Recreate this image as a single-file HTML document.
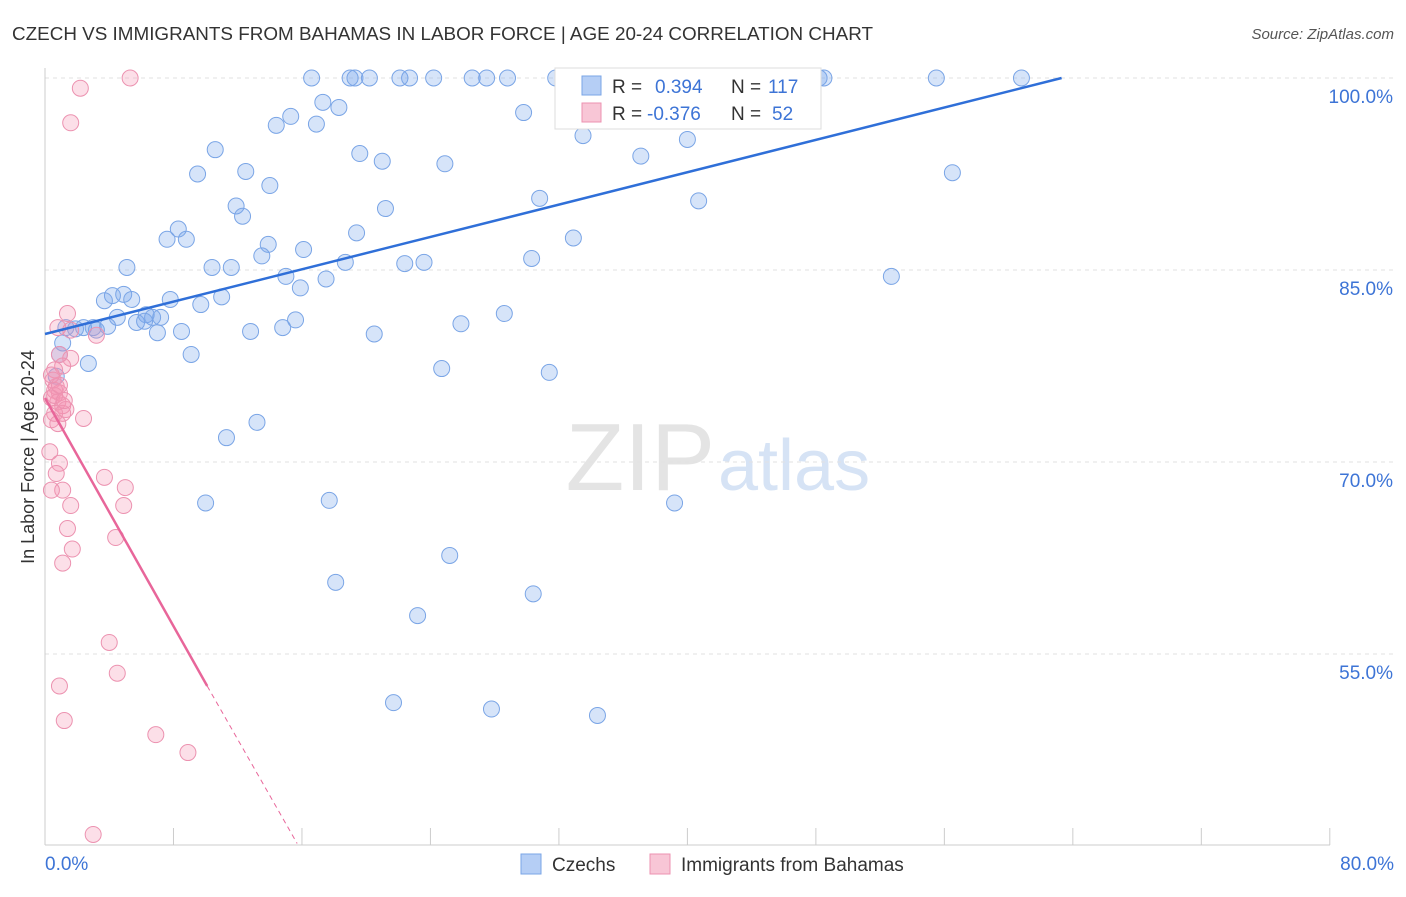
<!DOCTYPE html>
<html><head><meta charset="utf-8"><style>
body{margin:0;background:#fff;font-family:"Liberation Sans",sans-serif;}
svg text{font-family:"Liberation Sans",sans-serif;}
</style></head><body>
<svg id="c" width="1406" height="892" xmlns="http://www.w3.org/2000/svg">
<text x="12" y="40" font-size="18" fill="#333" textLength="861" lengthAdjust="spacingAndGlyphs">CZECH VS IMMIGRANTS FROM BAHAMAS IN LABOR FORCE | AGE 20-24 CORRELATION CHART</text>
<text x="1394" y="39" font-size="15" fill="#555" font-style="italic" text-anchor="end">Source: ZipAtlas.com</text>
<text x="715" y="490" font-size="96" fill="#e4e4e4" font-family="Liberation Serif" text-anchor="end">ZIP</text>
<text x="718" y="490" font-size="72" fill="#d6e3f5">atlas</text>
<g id="grid"></g><g id="axes"></g><g id="pts"></g><g id="trend"></g>
<text transform="translate(34,457) rotate(-90)" font-size="18" fill="#333" text-anchor="middle">In Labor Force | Age 20-24</text>
<g>
<rect x="555" y="68" width="266" height="61" fill="#fff" stroke="#ddd"/>
<rect x="582" y="76" width="19" height="19" fill="#b5cef5" stroke="#7aa5e6"/>
<text x="612" y="93" font-size="19" fill="#333">R = </text><text x="655" y="93" font-size="19" fill="#3d74d6">0.394</text>
<text x="731" y="93" font-size="19" fill="#333">N = </text><text x="768" y="93" font-size="19" fill="#3d74d6">117</text>
<rect x="582" y="103" width="19" height="19" fill="#f8c6d6" stroke="#ec92b0"/>
<text x="612" y="120" font-size="19" fill="#333">R = </text><text x="647" y="120" font-size="19" fill="#3d74d6">-0.376</text>
<text x="731" y="120" font-size="19" fill="#333">N = </text><text x="772" y="120" font-size="19" fill="#3d74d6">52</text>
</g>
<g>
<rect x="521" y="854" width="20" height="20" fill="#b5cef5" stroke="#7aa5e6"/>
<text x="552" y="871" font-size="19" fill="#333">Czechs</text>
<rect x="650" y="854" width="20" height="20" fill="#f8c6d6" stroke="#ec92b0"/>
<text x="681" y="871" font-size="19" fill="#333">Immigrants from Bahamas</text>
</g>
</svg>
<script>
const yTicks=[100,85,70,55];
const xTickLabels=["0.0%","80.0%"];
const blueX=[16.6,19.0,19.3,20.2,22.1,22.7,24.2,26.6,27.5,28.8,31.8,34.6,35.5,37.9,39.3,40.8,41.7,43.3,44.3,45.5,48.2,48.5,55.5,60.8,
17.3,18.3,15.3,14.4,16.9,29.8,33.5,40.0,10.6,19.6,21.0,24.9,37.1,9.5,12.5,14.0,56.5,30.8,40.7,11.9,12.3,21.2,8.3,7.6,8.8,19.4,13.9,16.1,32.9,13.5,5.1,10.4,11.6,18.7,22.4,23.6,30.3,52.7,15.0,17.5,15.9,4.2,4.9,3.7,5.4,7.8,11.0,9.7,4.5,6.3,7.2,5.7,6.7,6.2,15.6,28.6,25.9,1.3,1.9,2.4,3.0,3.2,3.9,7.0,8.5,12.8,14.8,20.5,1.1,0.9,9.1,2.7,24.7,31.4,0.7,11.3,13.2,10.0,17.7,39.2,25.2,18.1,30.4,23.2,21.7,27.8,34.4];
const blueY=[100,100,100,100,100,100,100,100,100,100,100,100,100,100,100,100,100,100,100,100,100,100,100,100,
98.1,97.7,97.0,96.3,96.4,97.3,95.5,95.2,94.4,94.1,93.5,93.3,93.9,92.5,92.7,91.6,92.6,90.6,90.4,90.0,89.2,89.8,88.2,87.4,87.4,87.9,87.0,86.6,87.5,86.1,85.2,85.2,85.2,85.6,85.5,85.6,85.9,84.5,84.5,84.3,83.6,83.0,83.1,82.6,82.7,82.7,82.9,82.3,81.3,81.5,81.3,80.9,81.3,81.0,81.1,81.6,80.8,80.5,80.4,80.5,80.5,80.3,80.6,80.1,80.2,80.2,80.5,80.0,79.3,78.4,78.4,77.7,77.3,77.0,76.7,71.9,73.1,66.8,67.0,66.8,62.7,60.6,59.7,58.0,51.2,50.7,50.2];
const pinkX=[5.3,2.2,1.6,1.4,0.8,1.6,3.2,0.9,1.6,1.1,0.6,0.5,0.7,0.6,0.9,0.4,0.8,1.1,1.3,0.6,1.1,2.4,0.4,0.8,0.3,0.9,0.7,3.7,5.0,1.1,0.4,4.9,1.6,1.4,1.7,4.4,1.1,4.0,4.5,0.9,1.2,6.9,8.9,3.0,0.6,0.9,0.4,1.2];
const pinkY=[100,99.2,96.5,81.6,80.5,80.3,79.9,78.4,78.1,77.5,77.2,76.4,75.9,75.6,75.4,75.0,74.7,74.4,74.1,73.8,73.8,73.4,73.3,73.0,70.8,69.9,69.1,68.8,68.0,67.8,67.8,66.6,66.6,64.8,63.2,64.1,62.1,55.9,53.5,52.5,49.8,48.7,47.3,40.9,75.2,76.0,76.8,74.8];
const blueTrend=[[0,80.0],[63.3,100]];
const pinkTrend=[[0,75.0],[10.1,52.5]];
const pinkDash=[[10.1,52.5],[15.7,40.2]];
const NS="http://www.w3.org/2000/svg";
const X=v=>45+v*16.06, Y=v=>78+(100-v)*12.8;
function mk(t,a,p){const e=document.createElementNS(NS,t);for(const k in a)e.setAttribute(k,a[k]);p.appendChild(e);return e;}
const grid=document.getElementById('grid'),axes=document.getElementById('axes'),pts=document.getElementById('pts'),tr=document.getElementById('trend');
yTicks.forEach(v=>{
 const l=mk('line',{x1:45,x2:1394,y1:Y(v),y2:Y(v),stroke:'#e2e2e2','stroke-dasharray':'4 4'},grid);
 
 
 const t=mk('text',{x:1393,y:Y(v)+25,'font-size':19,fill:'#3d74d6','text-anchor':'end'},grid);t.textContent=v.toFixed(1)+'%';
 
 
});
const ax=mk('line',{x1:45,x2:1330,y1:845,y2:845,stroke:'#ccc'},axes);


const ay=mk('line',{x1:45,x2:45,y1:68,y2:845,stroke:'#ccc'},axes);


for(let i=0;i<=10;i++){const t=mk('line',{x1:X(i*8),x2:X(i*8),y1:828,y2:845,stroke:'#ccc'},axes);
 
 }
[[0,'start',45],[1,'end',1394]].forEach(([i,a,x])=>{const t=mk('text',{x:x,y:870,'font-size':19,fill:'#3d74d6','text-anchor':a},axes);t.textContent=xTickLabels[i];
 
 });
blueX.forEach((v,i)=>{const c=mk('circle',{cx:X(v),cy:Y(blueY[i]),r:8,fill:'rgba(120,165,235,0.3)',stroke:'#7aa5e6','stroke-width':1},pts);
 
 });
pinkX.forEach((v,i)=>{const c=mk('circle',{cx:X(v),cy:Y(pinkY[i]),r:8,fill:'rgba(244,150,180,0.3)',stroke:'#ec92b0','stroke-width':1},pts);
 
 });
const b=mk('line',{x1:X(blueTrend[0][0]),y1:Y(blueTrend[0][1]),x2:X(blueTrend[1][0]),y2:Y(blueTrend[1][1]),stroke:'#2f6fd8','stroke-width':2.5},tr);


const p=mk('line',{x1:X(pinkTrend[0][0]),y1:Y(pinkTrend[0][1]),x2:X(pinkTrend[1][0]),y2:Y(pinkTrend[1][1]),stroke:'#e8669a','stroke-width':2.5},tr);


const d=mk('line',{x1:X(pinkDash[0][0]),y1:Y(pinkDash[0][1]),x2:X(pinkDash[1][0]),y2:Y(pinkDash[1][1]),stroke:'#e8669a','stroke-width':1,'stroke-dasharray':'5 4'},tr);


</script>
</body></html>
